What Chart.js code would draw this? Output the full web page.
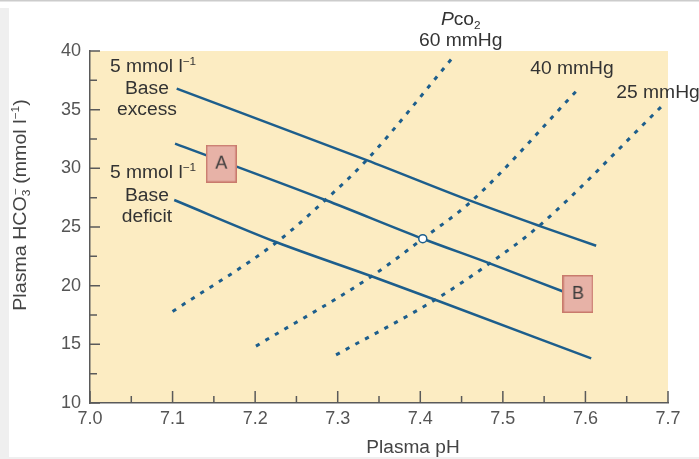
<!DOCTYPE html>
<html><head><meta charset="utf-8">
<script src="https://cdn.jsdelivr.net/npm/chart.js@4.4.1/dist/chart.umd.min.js"></script>
<style>html,body{margin:0;padding:0;background:#fff;overflow:hidden}canvas{display:block}</style>
</head><body>
<canvas id="c" width="699" height="459"></canvas>
<script>
// ---- tick labels ----
const phTicks = [7.0, 7.1, 7.2, 7.3, 7.4, 7.5, 7.6, 7.7];
const hco3Ticks = [10, 15, 20, 25, 30, 35, 40];

// ---- buffer lines (solid) ----
const excessPH   = [7.105, 7.335, 7.462, 7.544, 7.613];
const excessHCO3 = [36.8, 30.7, 27.2, 25.1, 23.4];
const normalPH   = [7.103, 7.285, 7.403, 7.484, 7.573];
const normalHCO3 = [32.1, 27.3, 24.0, 21.9, 19.5];
const deficitPH   = [7.102, 7.226, 7.341, 7.418, 7.607];
const deficitHCO3 = [27.3, 23.7, 20.8, 18.8, 13.8];

// ---- PCO2 isobars (dotted) ----
const pco60PH   = [7.100, 7.226, 7.285, 7.335, 7.440];
const pco60HCO3 = [17.8, 23.7, 27.3, 30.7, 39.5];
const pco40PH   = [7.201, 7.341, 7.403, 7.462, 7.592];
const pco40HCO3 = [14.85, 20.8, 24.0, 27.2, 36.8];
const pco25PH   = [7.298, 7.418, 7.484, 7.544, 7.694];
const pco25HCO3 = [14.1, 18.8, 21.9, 25.1, 35.4];

// ---- marked states ----
const stateLabels = ['A', 'B'];
const statePH   = [7.159, 7.591];
const stateHCO3 = [30.4, 19.3];
const normalPointPH = [7.403];
const normalPointHCO3 = [24.0];

const BLUE = '#1d5e8c';
const pts = (xs, ys) => xs.map((x, i) => ({x, y: ys[i]}));

function makeBox(letter) {
  const c = document.createElement('canvas');
  c.width = 31; c.height = 38;
  const g = c.getContext('2d');
  g.fillStyle = '#e7b2a7';
  g.fillRect(0.75, 0.75, 29.5, 36.5);
  g.strokeStyle = '#c97a6c';
  g.lineWidth = 1.5;
  g.strokeRect(0.75, 0.75, 29.5, 36.5);
  g.fillStyle = '#3a3a3a';
  g.font = '18px "Liberation Sans", Arial, sans-serif';
  g.textAlign = 'center'; g.textBaseline = 'middle';
  g.fillText(letter, 15.5, 19.5);
  return c;
}
const boxStyles = stateLabels.map(makeBox);

const solid = (data) => ({data, showLine: true, borderColor: BLUE, borderWidth: 2.5,
  pointRadius: 0, cubicInterpolationMode: 'monotone', fill: false});
const dotted = (data) => ({data, showLine: true, borderColor: BLUE, borderWidth: 3,
  borderDash: [4.2, 6.8], borderCapStyle: 'butt', pointRadius: 0,
  cubicInterpolationMode: 'monotone', fill: false});

// text annotations: [runs, pH, HCO3]
const FONT = '"Liberation Sans", Arial, sans-serif';
const annotations = [
  [[{t:'5 mmol l'},{t:'\u22121', sup:true}], 7.0763, 38.72],
  [[{t:'Base'}], 7.069, 36.93],
  [[{t:'excess'}], 7.069, 35.06],
  [[{t:'5 mmol l'},{t:'\u22121', sup:true}], 7.0763, 29.69],
  [[{t:'Base'}], 7.069, 27.73],
  [[{t:'deficit'}], 7.069, 26.02],
  [[{t:'P', italic:true},{t:'co'},{t:'2', sub:true}], 7.449, 42.73],
  [[{t:'60 mmHg'}], 7.449, 40.94],
  [[{t:'40 mmHg'}], 7.5837, 38.55],
  [[{t:'25 mmHg'}], 7.6879, 36.51]
];
const STRETCH = 1.07;

function runFont(r, size) {
  const s = (r.sup || r.sub) ? Math.round(size * 0.62) : size;
  return (r.italic ? 'italic ' : '') + s + 'px ' + FONT;
}
function drawRuns(ctx, runs, size, stretch) {
  // draws centered at (0,0)
  let w = 0;
  const widths = runs.map(r => {
    ctx.font = runFont(r, size);
    let rw;
    if (r.stack) { // sub + sup stacked
      rw = Math.max(ctx.measureText(r.stack[0]).width, ctx.measureText(r.stack[1]).width);
    } else rw = ctx.measureText(r.t).width;
    w += rw; return rw;
  });
  ctx.save();
  ctx.scale(stretch, 1);
  let x = -w / 2;
  ctx.textBaseline = 'alphabetic';
  ctx.textAlign = 'left';
  const base = size * 0.36;
  runs.forEach((r, i) => {
    ctx.font = runFont(r, size);
    if (r.stack) {
      ctx.fillText(r.stack[0], x, base + size * 0.2);
      ctx.fillText(r.stack[1], x + 1, base - size * 0.42);
    } else {
      let y = base;
      if (r.sup) y = base - size * 0.42;
      if (r.sub) y = base + size * 0.2;
      ctx.fillText(r.t, x, y);
    }
    x += widths[i];
  });
  ctx.restore();
}

const deco = {
  id: 'deco',
  beforeDraw(chart) {
    const ctx = chart.ctx, a = chart.chartArea;
    ctx.save();
    ctx.fillStyle = '#ffffff'; ctx.fillRect(0, 0, 699, 459);
    ctx.fillStyle = '#efefef'; ctx.fillRect(0, 8, 9, 451); ctx.fillRect(0, 457, 699, 2);
    ctx.fillStyle = '#cccccc'; ctx.fillRect(0, 0, 699, 1.5);
    ctx.fillStyle = '#fcecc2';
    ctx.fillRect(a.left, a.top, a.right - a.left, a.bottom - a.top);
    ctx.restore();
  },
  beforeDatasetsDraw(chart) {
    const ctx = chart.ctx, a = chart.chartArea;
    const xs = chart.scales.x, ys = chart.scales.y;
    ctx.save();
    ctx.strokeStyle = '#5a5a5a'; ctx.lineWidth = 1.5;
    ctx.beginPath();
    for (let i = 0; i < hco3Ticks.length; i++) {
      const v = hco3Ticks[i];
      const y = ys.getPixelForValue(v);
      ctx.moveTo(a.left, y); ctx.lineTo(a.left + 10, y);
      if (i < hco3Ticks.length - 1) {
        const ym = ys.getPixelForValue((v + hco3Ticks[i + 1]) / 2);
        ctx.moveTo(a.left, ym); ctx.lineTo(a.left + 7, ym);
      }
    }
    for (let i = 0; i < phTicks.length; i++) {
      const v = phTicks[i];
      const x = xs.getPixelForValue(v);
      ctx.moveTo(x, a.bottom); ctx.lineTo(x, a.bottom - 12);
      if (i < phTicks.length - 1) {
        const xm = xs.getPixelForValue((v + phTicks[i + 1]) / 2);
        ctx.moveTo(xm, a.bottom); ctx.lineTo(xm, a.bottom - 7);
      }
    }
    ctx.stroke();
    ctx.restore();
  },
  afterDraw(chart) {
    const ctx = chart.ctx, a = chart.chartArea;
    const xs = chart.scales.x, ys = chart.scales.y;
    ctx.save();
    ctx.fillStyle = '#333333';
    annotations.forEach(([runs, px, py]) => {
      ctx.save();
      ctx.translate(xs.getPixelForValue(px), ys.getPixelForValue(py));
      drawRuns(ctx, runs, 18, STRETCH);
      ctx.restore();
    });
    // axis titles
    ctx.fillStyle = '#444444';
    ctx.save();
    ctx.translate(413, 447);
    drawRuns(ctx, [{t:'Plasma pH'}], 18, 1.06);
    ctx.restore();
    ctx.save();
    ctx.translate(20, 205);
    ctx.rotate(-Math.PI / 2);
    drawRuns(ctx, [{t:'Plasma HCO'}, {stack:['3','\u2212'], sub:true}, {t:' (mmol l'}, {t:'\u22121', sup:true}, {t:')'}], 18, 1.09);
    ctx.restore();
    ctx.restore();
  }
};

new Chart(document.getElementById('c'), {
  type: 'scatter',
  data: {
    datasets: [
      {data: pts(statePH, stateHCO3), pointStyle: boxStyles, pointRadius: 15, showLine: false},
      {data: pts(normalPointPH, normalPointHCO3), pointStyle: 'circle', pointRadius: 4,
        pointBackgroundColor: '#ffffff', pointBorderColor: BLUE, pointBorderWidth: 1.5, showLine: false},
      solid(pts(excessPH, excessHCO3)),
      solid(pts(normalPH, normalHCO3)),
      solid(pts(deficitPH, deficitHCO3)),
      dotted(pts(pco60PH, pco60HCO3)),
      dotted(pts(pco40PH, pco40HCO3)),
      dotted(pts(pco25PH, pco25HCO3))
    ]
  },
  options: {
    responsive: false,
    devicePixelRatio: 1,
    animation: false,
    events: [],
    layout: {padding: {top: 51, right: 31, left: 0, bottom: 0}},
    plugins: {legend: {display: false}, tooltip: {enabled: false}},
    scales: {
      x: {
        type: 'linear', min: 7.0, max: 7.7,
        afterBuildTicks: s => { s.ticks = phTicks.map(v => ({value: v})); },
        afterFit: s => { s.height = 56; },
        grid: {display: false, drawTicks: false, tickLength: 0},
        border: {display: true, color: '#5a5a5a', width: 1.5},
        ticks: {padding: 5, color: '#555555', font: {family: FONT, size: 18},
          callback: v => Number(v).toFixed(1), maxRotation: 0, autoSkip: false}
      },
      y: {
        type: 'linear', min: 10, max: 40,
        afterBuildTicks: s => { s.ticks = hco3Ticks.map(v => ({value: v})); },
        afterFit: s => { s.width = 90; },
        grid: {display: false, drawTicks: false, tickLength: 0},
        border: {display: true, color: '#5a5a5a', width: 1.5},
        ticks: {padding: 9, color: '#555555', font: {family: FONT, size: 18}, autoSkip: false}
      }
    }
  },
  plugins: [deco]
});
</script>
</body></html>
